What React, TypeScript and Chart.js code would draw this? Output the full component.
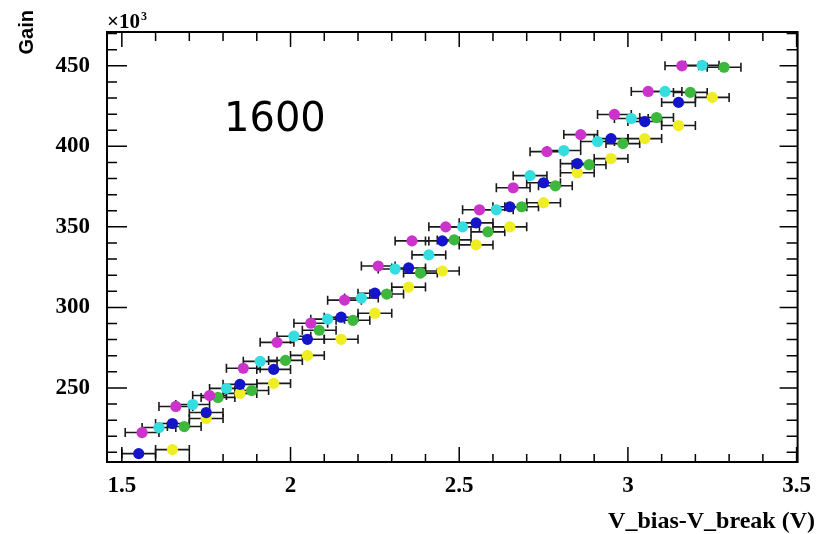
import React, { useEffect, useRef } from "react";
import { Chart, registerables } from "chart.js";

Chart.register(...registerables);

// ---- data (Gain in units of 10^3, x = V_bias - V_break in V) ----
const magentaX = [1.56, 1.66, 1.76, 1.86, 1.96, 2.06, 2.16, 2.26, 2.36, 2.46, 2.56, 2.66, 2.76, 2.86, 2.96, 3.06, 3.16];
const magentaY = [222.3, 238.5, 245.3, 262.2, 278.3, 290.2, 304.5, 325.7, 341.3, 350.0, 360.6, 374.3, 396.7, 407.3, 419.8, 434.1, 450.0];

const cyanX = [1.61, 1.71, 1.81, 1.91, 2.01, 2.11, 2.21, 2.31, 2.41, 2.51, 2.61, 2.71, 2.81, 2.91, 3.01, 3.11, 3.22];
const cyanY = [225.4, 239.7, 249.7, 266.5, 282.1, 292.7, 305.8, 323.8, 332.6, 350.0, 360.6, 381.8, 397.4, 403.0, 417.3, 434.1, 450.3];

const greenX = [1.685, 1.785, 1.885, 1.985, 2.085, 2.185, 2.285, 2.385, 2.485, 2.585, 2.685, 2.785, 2.885, 2.985, 3.085, 3.185, 3.285];
const greenY = [226.0, 244.1, 248.4, 267.1, 285.8, 292.0, 308.3, 321.3, 341.9, 346.9, 362.5, 375.5, 388.6, 401.7, 417.9, 433.5, 449.1];

const blueX = [1.55, 1.65, 1.75, 1.85, 1.95, 2.05, 2.15, 2.25, 2.35, 2.45, 2.55, 2.65, 2.75, 2.85, 2.95, 3.05, 3.15];
const blueY = [209.2, 227.9, 234.7, 252.2, 261.5, 280.2, 293.9, 308.8, 324.5, 341.3, 352.5, 362.5, 377.4, 389.3, 404.8, 415.4, 427.3];

const yellowX = [1.65, 1.75, 1.85, 1.95, 2.05, 2.15, 2.25, 2.35, 2.45, 2.55, 2.65, 2.75, 2.85, 2.95, 3.05, 3.15, 3.25];
const yellowY = [211.7, 231.0, 246.6, 252.8, 270.2, 280.2, 296.4, 312.6, 322.6, 338.8, 350.0, 365.0, 383.6, 392.4, 404.8, 412.9, 430.4];

const X_ERR = 0.05; // half width of horizontal error bars (V)

const xTicks = [1.5, 2, 2.5, 3, 3.5];
const yTicks = [250, 300, 350, 400, 450];
const xMinorStep = 0.1;
const yMinorStep = 10;

const yTitle = "Gain";
const xTitle = "V_bias-V_break (V)";
const exponentBase = "\u00d710";
const exponentPower = "3";
const annotation = "1600";

const seriesList = [
  { xs: magentaX, ys: magentaY, color: "#cc33cc" },
  { xs: cyanX, ys: cyanY, color: "#33dde0" },
  { xs: greenX, ys: greenY, color: "#3cb83c" },
  { xs: blueX, ys: blueY, color: "#1414c8" },
  { xs: yellowX, ys: yellowY, color: "#eeee22" },
];

const serif = "'Liberation Serif', 'DejaVu Serif', serif";
const sans = "'Liberation Sans', Arial, sans-serif";

const rootPlugin = {
  id: "rootStyle",
  beforeDatasetsDraw(chart: any) {
    const { ctx } = chart;
    const xs = chart.scales.x;
    const ys = chart.scales.y;
    ctx.save();
    ctx.strokeStyle = "#1a1a1a";
    ctx.lineWidth = 1.6;
    chart.data.datasets.forEach((ds: any) => {
      ds.data.forEach((p: any) => {
        const py = ys.getPixelForValue(p.y);
        const x1 = xs.getPixelForValue(p.x - X_ERR);
        const x2 = xs.getPixelForValue(p.x + X_ERR);
        ctx.beginPath();
        ctx.moveTo(x1, py);
        ctx.lineTo(x2, py);
        ctx.moveTo(x1, py - 4.5);
        ctx.lineTo(x1, py + 4.5);
        ctx.moveTo(x2, py - 4.5);
        ctx.lineTo(x2, py + 4.5);
        ctx.stroke();
      });
    });
    ctx.restore();
  },
  afterDraw(chart: any) {
    const { ctx, chartArea } = chart;
    const { left, right, top, bottom } = chartArea;
    const xs = chart.scales.x;
    const ys = chart.scales.y;
    ctx.save();
    ctx.strokeStyle = "#000";
    // frame
    ctx.lineWidth = 2;
    ctx.strokeRect(left, top, right - left, bottom - top);
    // ticks
    ctx.lineWidth = 1.5;
    ctx.beginPath();
    const xMin = xTicks[0];
    const xMax = xTicks[xTicks.length - 1];
    for (let k = 0; xMin + k * xMinorStep <= xMax + 1e-9; k++) {
      const v = xMin + k * xMinorStep;
      const major = k % 5 === 0;
      const px = xs.getPixelForValue(v);
      const lb = major ? 15 : 8;
      const lt = major ? 15 : 9;
      ctx.moveTo(px, bottom);
      ctx.lineTo(px, bottom - lb);
      ctx.moveTo(px, top);
      ctx.lineTo(px, top + lt);
    }
    const yLo = Math.ceil(ys.min / yMinorStep) * yMinorStep;
    for (let v = yLo; v <= ys.max; v += yMinorStep) {
      const major = v % 50 === 0;
      const py = ys.getPixelForValue(v);
      const ll = major ? 20 : 10;
      const lr = major ? 18 : 11;
      ctx.moveTo(left, py);
      ctx.lineTo(left + ll, py);
      ctx.moveTo(right, py);
      ctx.lineTo(right - lr, py);
    }
    ctx.stroke();

    // texts
    ctx.fillStyle = "#000";
    // y title
    ctx.save();
    ctx.translate(33, 10);
    ctx.rotate(-Math.PI / 2);
    ctx.font = `bold 20px ${sans}`;
    ctx.textAlign = "right";
    ctx.textBaseline = "alphabetic";
    ctx.fillText(yTitle, 0, 0);
    ctx.restore();

    // exponent
    ctx.font = `bold 21px ${serif}`;
    ctx.textAlign = "left";
    ctx.textBaseline = "alphabetic";
    ctx.fillText(exponentBase, 107, 28);
    const w = ctx.measureText(exponentBase).width;
    ctx.font = `bold 12px ${serif}`;
    ctx.fillText(exponentPower, 107 + w + 1, 20);

    // x title
    ctx.font = `bold 24px ${serif}`;
    ctx.textAlign = "right";
    ctx.fillText(xTitle, 815, 528);

    // annotation
    ctx.font = `40px 'DejaVu Sans', Verdana, sans-serif`;
    ctx.textAlign = "left";
    ctx.fillText(annotation, 224, 131);
    ctx.restore();
  },
};

export default function App() {
  const ref = useRef<HTMLCanvasElement | null>(null);

  useEffect(() => {
    if (!ref.current) return;
    const chart = new Chart(ref.current, {
      type: "scatter",
      data: {
        datasets: seriesList.map((s) => ({
          data: s.xs.map((x, i) => ({ x, y: s.ys[i] })),
          pointRadius: 5.6,
          pointHoverRadius: 5.6,
          pointBackgroundColor: s.color,
          pointBorderColor: s.color,
          pointBorderWidth: 0,
          showLine: false,
        })),
      },
      options: {
        animation: false,
        responsive: false,
        devicePixelRatio: 1,
        layout: { padding: { left: 0, top: 32, right: 18, bottom: 0 } },
        plugins: { legend: { display: false }, tooltip: { enabled: false } },
        scales: {
          x: {
            type: "linear",
            min: 1.456,
            max: 3.503,
            grid: { display: false, drawTicks: false },
            border: { display: false },
            afterBuildTicks: (scale: any) => {
              scale.ticks = xTicks.map((v) => ({ value: v }));
            },
            afterFit: (scale: any) => {
              scale.height = 72;
            },
            ticks: {
              padding: 10,
              color: "#000",
              font: { family: serif, weight: "bold", size: 23 },
              callback: (v: any) => String(v),
              maxRotation: 0,
              autoSkip: false,
            },
          },
          y: {
            type: "linear",
            min: 204,
            max: 471,
            grid: { display: false, drawTicks: false },
            border: { display: false },
            afterBuildTicks: (scale: any) => {
              scale.ticks = yTicks.map((v) => ({ value: v }));
            },
            afterFit: (scale: any) => {
              scale.width = 107;
            },
            ticks: {
              padding: 17,
              color: "#000",
              font: { family: serif, weight: "bold", size: 23 },
              callback: (v: any) => String(v),
              autoSkip: false,
            },
          },
        },
      },
      plugins: [rootPlugin],
    } as any);
    return () => chart.destroy();
  }, []);

  return (
    <div style={{ position: "fixed", left: 0, top: 0, width: 821, height: 534, background: "#fff" }}>
      <canvas ref={ref} width={821} height={534} style={{ display: "block" }} />
    </div>
  );
}
